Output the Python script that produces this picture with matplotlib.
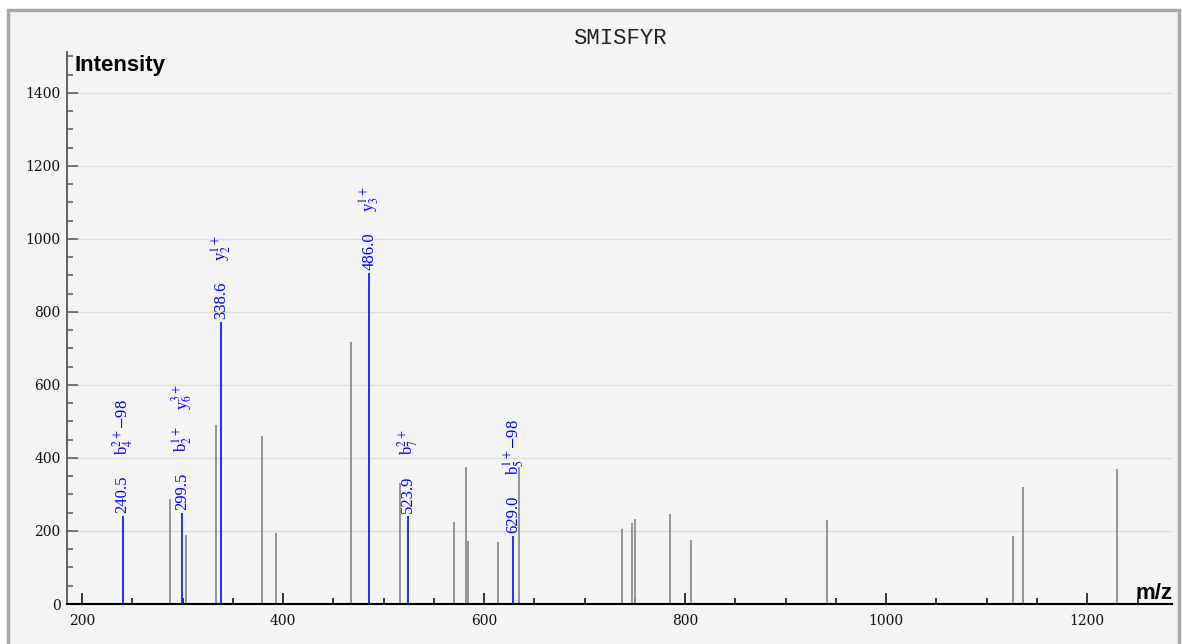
import matplotlib
matplotlib.use("Agg")
import matplotlib.pyplot as plt
from matplotlib.patches import Rectangle
from matplotlib.ticker import MultipleLocator

# ---------------- data ----------------
title = "SMISFYR"

# unannotated peaks
gray_mz = [287.6, 303.2, 333.3, 378.8, 393.4, 467.4, 516.4, 569.9, 581.8, 583.8,
           614.2, 634.8, 737.6, 747.0, 750.2, 785.1, 806.0, 941.3, 1126.0, 1136.0, 1229.5]
gray_int = [288, 188, 490, 461, 194, 717, 331, 224, 374, 173,
            169, 374, 205, 221, 232, 247, 174, 231, 186, 320, 369]

# annotated (matched) peaks
ion_mz = [240.5, 299.5, 338.6, 486.0, 523.9, 629.0]
ion_int = [240, 250, 773, 907, 240, 187]
ion_labels = [
    [r"b$_4^{2+}$$-$98"],
    [r"b$_2^{1+}$", r"y$_6^{3+}$"],
    [r"y$_2^{1+}$"],
    [r"y$_3^{1+}$"],
    [r"b$_7^{2+}$"],
    [r"b$_5^{1+}$$-$98"],
]

# ---------------- figure ----------------
plt.rcParams["mathtext.fontset"] = "stix"
W, H = 1182, 644
fig = plt.figure(figsize=(W / 100, H / 100), dpi=100, facecolor="white")
fig.patches.append(Rectangle((8 / W, -0.05), (1179 - 8) / W, 1.05 - 10 / H,
                             transform=fig.transFigure, facecolor="#f4f4f4",
                             edgecolor="#a8a8a8", lw=2.5, zorder=-10))

ax = fig.add_axes([67 / W, 40 / H, 1105 / W, 552 / H])
ax.patch.set_visible(False)
ax.set_xlim(185.1, 1284.3)
ax.set_ylim(0, 1512)

for s in ("top", "right"):
    ax.spines[s].set_visible(False)
ax.spines["left"].set_color("#555555")
ax.spines["left"].set_linewidth(1.3)
ax.spines["bottom"].set_color("black")
ax.spines["bottom"].set_linewidth(1.5)

ax.yaxis.grid(True, color="#dcdcdc", lw=1)
ax.set_axisbelow(True)

ax.xaxis.set_major_locator(MultipleLocator(200))
ax.xaxis.set_minor_locator(MultipleLocator(50))
ax.yaxis.set_major_locator(MultipleLocator(200))
ax.yaxis.set_minor_locator(MultipleLocator(50))
ax.tick_params(axis="x", which="major", direction="in", length=8, width=1.1,
               color="black", pad=7.5)
ax.tick_params(axis="x", which="minor", direction="in", length=4.5, width=1.1,
               color="black")
ax.tick_params(axis="y", which="major", direction="in", length=8, width=1.1,
               color="#555555", pad=4.5)
ax.tick_params(axis="y", which="minor", direction="in", length=4.5, width=1.1,
               color="#555555")
for lab in ax.get_xticklabels() + ax.get_yticklabels():
    lab.set_fontfamily("DejaVu Serif")
    lab.set_fontsize(10)
    lab.set_color("#111111")

ax.vlines(gray_mz, 0, gray_int, color="#8c8c8c", lw=1.3, zorder=2)
ax.vlines(ion_mz, 0, ion_int, color="#1a1aff", lw=1.3, zorder=3)

for mz, inten, labs in zip(ion_mz, ion_int, ion_labels):
    ax.annotate(f"{mz:.1f}", xy=(mz, inten), xytext=(0, 3),
                textcoords="offset pixels", rotation=90, ha="center",
                va="bottom", color="blue", fontsize=12,
                family="Liberation Serif")
    for k, lab in enumerate(labs):
        ax.annotate(lab, xy=(mz, inten), xytext=(0, 61 + 42 * k),
                    textcoords="offset pixels", rotation=90, ha="center",
                    va="bottom", color="blue", fontsize=12,
                    family="Liberation Serif")

fig.text(620 / W, 1 - 39 / H, title, family="Liberation Mono", fontsize=16,
         ha="center", va="center", color="#222222")
fig.text(75 / W, 1 - 66 / H, "Intensity", family="Liberation Sans",
         fontweight="bold", fontsize=16, ha="left", va="center")
fig.text(1172 / W, 1 - 599 / H, "m/z", family="Liberation Sans",
         fontweight="bold", fontsize=16, ha="right", va="baseline")

fig.savefig("out.png", dpi=100, facecolor=fig.get_facecolor())
